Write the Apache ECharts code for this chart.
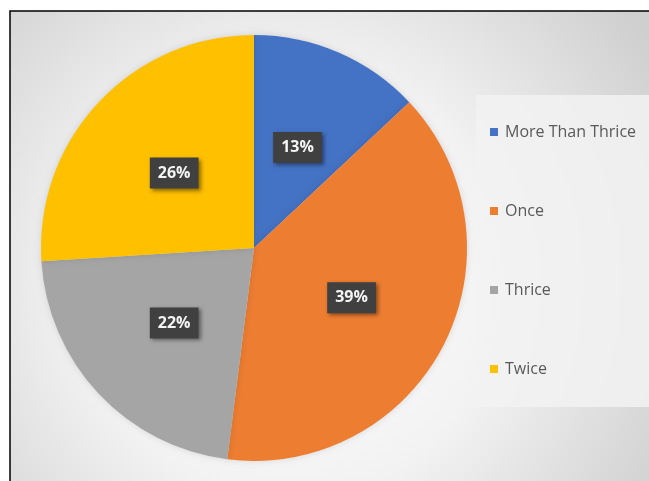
<!DOCTYPE html>
<html>
<head>
<meta charset="utf-8">
<style>
  html, body { margin: 0; padding: 0; background: #ffffff; }
  #chart { width: 649px; height: 481px; }
</style>
<script src="https://cdn.jsdelivr.net/npm/echarts@6/dist/echarts.min.js"></script>
</head>
<body>
<div id="chart"></div>
<script>
// How often: share of respondents per answer
const categories = ['More Than Thrice', 'Once', 'Thrice', 'Twice'];
const shares = [13, 39, 22, 26];
const colors = ['#4472C4', '#ED7D31', '#A5A5A5', '#FFC000'];

const chart = echarts.init(document.getElementById('chart'), null, { renderer: 'canvas' });

const pieData = categories.map((name, i) => ({
  name: name,
  value: shares[i],
  itemStyle: { color: colors[i] }
}));

chart.setOption({
  animation: false,
  graphic: [
    {
      type: 'rect',
      z: -10,
      silent: true,
      shape: { x: 10, y: 11, width: 700, height: 600 },
      style: {
        fill: {
          type: 'radial', x: 0.4, y: 0.45, r: 0.72,
          colorStops: [
            { offset: 0, color: '#ffffff' },
            { offset: 0.5, color: '#f2f2f2' },
            { offset: 1, color: '#cfcfcf' }
          ]
        },
        stroke: '#000000',
        lineWidth: 1.5
      }
    },
    {
      type: 'rect',
      z: -5,
      silent: true,
      shape: { x: 476, y: 95, width: 200, height: 312 },
      style: { fill: 'rgba(242,242,242,0.85)' }
    }
  ],
  legend: {
    orient: 'vertical',
    left: 490,
    top: 123,
    padding: 0,
    itemWidth: 8,
    itemHeight: 8,
    itemGap: 61,
    icon: 'rect',
    data: categories,
    textStyle: {
      color: '#595959',
      fontSize: 16,
      fontFamily: 'Open Sans',
      lineHeight: 18,
      padding: [0, 0, 0, 2]
    }
  },
  series: [
    {
      type: 'pie',
      center: [254, 248],
      radius: [0, 213],
      startAngle: 90,
      clockwise: true,
      avoidLabelOverlap: false,
      data: pieData,
      itemStyle: {
        shadowBlur: 6,
        shadowColor: 'rgba(0,0,0,0.12)'
      },
      label: {
        position: 'inside',
        formatter: p => p.value + '%',
        color: '#f4f4f4',
        fontSize: 16,
        fontWeight: 'bold',
        fontFamily: 'Open Sans',
        backgroundColor: '#404040',
        padding: [8, 8, 7, 8],
        shadowBlur: 4,
        shadowColor: 'rgba(0,0,0,0.45)',
        shadowOffsetX: 2,
        shadowOffsetY: 2
      },
      labelLine: { show: false },
      emphasis: { disabled: true }
    }
  ]
});
</script>
</body>
</html>
